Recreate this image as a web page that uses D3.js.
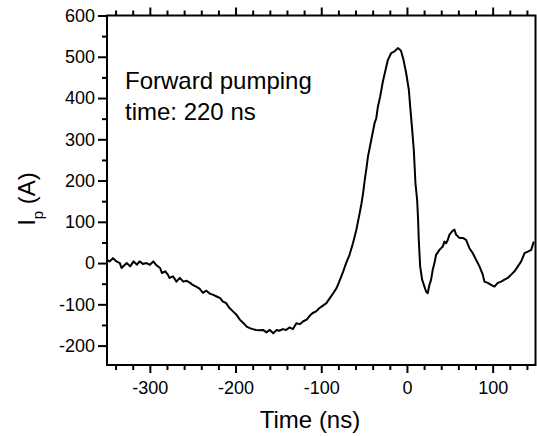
<!DOCTYPE html>
<html>
<head>
<meta charset="utf-8">
<script src="https://cdn.jsdelivr.net/npm/d3@7"></script>
<style>
  body { margin: 0; background: #fff; }
  text { font-family: "Liberation Sans", Arial, sans-serif; fill: #000; }
</style>
</head>
<body>
<div id="chart"></div>
<script>
// pulse current vs time
var time = [-350, -347, -343, -339, -335, -333, -327, -323, -319, -315, -312, -308, -304, -300, -296, -292, -288, -286, -282, -279,
  -277, -273, -269, -265, -261, -257, -253, -250, -246, -242, -238, -234, -230, -226, -222, -218, -215, -211, -207, -203,
  -199, -195, -191, -187, -184, -180, -176, -172, -168, -164, -160, -156, -152, -149, -145, -141, -137, -133, -129, -125,
  -121, -117, -114, -110, -106, -102, -98, -94, -90, -86, -82, -79, -75, -71, -67, -63, -59, -55, -53, -51,
  -49, -47, -45.5, -41.6, -37.8, -35.8, -33.9, -31.2, -28.1, -25, -22.3, -18.4, -14.5, -12, -10.6, -8, -6.7, -4, -0.9, 2.2,
  3.8, 6.1, 8, 9.9, 11.9, 13, 13.8, 15.4, 17.7, 20.4, 22.3, 24.2, 26.2, 28.2, 30.1, 32.1, 34, 37.9, 41.8, 43.7,
  45.7, 47.6, 49.6, 52.7, 55.4, 57.3, 61.2, 65.1, 69, 72.9, 76.8, 80.7, 84.6, 88.5, 90.4, 94.3, 98.2, 102.1, 106, 109.9,
  113.8, 117.7, 121.6, 125.5, 129.4, 133.3, 137.2, 141.1, 145, 148];
var current = [8, 4, 12, 4, 0, -12, 0, -8, 4, -4, 4, -2, 0, -4, 4, -6, -12, -24, -20, -28,
  -36, -32, -45, -36, -45, -43, -48, -53, -57, -62, -72, -67, -74, -77, -81, -85, -93, -97, -109, -117,
  -125, -137, -145, -154, -157, -160, -162, -163, -162, -168, -162, -170, -162, -164, -160, -162, -156, -160, -146, -148,
  -141, -137, -129, -121, -117, -109, -103, -97, -85, -73, -60, -45, -24, 0, 20, 48, 81, 123, 145, 172,
  205, 234, 258, 299, 339, 351, 379, 404, 440, 468, 492, 509, 513, 518, 521, 517, 513, 492, 460, 420,
  379, 323, 274, 194, 153, 105, 56, -8, -40, -57, -69, -73, -53, -40, -16, 0, 20, 32, 40, 52,
  48, 56, 69, 77, 81, 69, 61, 61, 56, 36, 24, 8, -8, -28, -45, -48, -53, -57, -48, -45,
  -40, -36, -28, -20, -8, 4, 24, 28, 32, 52];

var xTicks = [-300, -200, -100, 0, 100];
var yTicks = [-200, -100, 0, 100, 200, 300, 400, 500, 600];
var xMinor = d3.range(-340, 150, 20).filter(function(d){ return d % 100 != 0; });
var yMinor = [-150, -50, 50, 150, 250, 350, 450, 550];

var width = 537, height = 436;
var mLeft = 107, mRight = 535.5, mTop = 15.5, mBottom = 365;

var svg = d3.select("#chart").append("svg")
    .attr("width", width)
    .attr("height", height);

var x = d3.scaleLinear().domain([-350, 150]).range([mLeft, mRight]);
var y = d3.scaleLinear().domain([-247, 600]).range([mBottom, mTop]);

function styleAxis(g) {
    g.select(".domain").remove();
    g.selectAll("line").attr("stroke", "#000").attr("stroke-width", 2);
    g.selectAll("text").style("font-size", "18px").style("font-family", "Liberation Sans, Arial, sans-serif");
}

var fmt = function(d){ return String(d); };

// bottom axis
svg.append("g").attr("transform", "translate(0," + mBottom + ")")
    .call(d3.axisBottom(x).tickValues(xTicks).tickFormat(fmt).tickSize(8).tickPadding(8))
    .call(styleAxis);
svg.append("g").attr("transform", "translate(0," + mBottom + ")")
    .call(d3.axisBottom(x).tickValues(xMinor).tickFormat("").tickSize(5))
    .call(styleAxis);

// top axis, ticks only
svg.append("g").attr("transform", "translate(0," + mTop + ")")
    .call(d3.axisTop(x).tickValues(xTicks).tickFormat("").tickSize(8))
    .call(styleAxis);
svg.append("g").attr("transform", "translate(0," + mTop + ")")
    .call(d3.axisTop(x).tickValues(xMinor).tickFormat("").tickSize(5))
    .call(styleAxis);

// left axis
svg.append("g").attr("transform", "translate(" + mLeft + ",0)")
    .call(d3.axisLeft(y).tickValues(yTicks).tickFormat(fmt).tickSize(9).tickPadding(3))
    .call(styleAxis);
svg.append("g").attr("transform", "translate(" + mLeft + ",0)")
    .call(d3.axisLeft(y).tickValues(yMinor).tickFormat("").tickSize(5))
    .call(styleAxis);

// frame
svg.append("rect")
    .attr("x", mLeft).attr("y", mTop)
    .attr("width", mRight - mLeft).attr("height", mBottom - mTop)
    .attr("fill", "none").attr("stroke", "#000").attr("stroke-width", 2);

// the trace
var pts = time.map(function(t, i){ return [t, current[i]]; });
var line = d3.line()
    .x(function(d){ return x(d[0]); })
    .y(function(d){ return y(d[1]); });

svg.append("path")
    .datum(pts)
    .attr("d", line)
    .attr("fill", "none")
    .attr("stroke", "#000")
    .attr("stroke-width", 2)
    .attr("stroke-linejoin", "round");

// annotation
svg.append("text").attr("x", 125).attr("y", 89).style("font-size", "24px").text("Forward pumping");
svg.append("text").attr("x", 125).attr("y", 120).style("font-size", "24px").text("time: 220 ns");

// axis titles
svg.append("text")
    .attr("x", 310).attr("y", 428)
    .attr("text-anchor", "middle")
    .style("font-size", "24px")
    .text("Time (ns)");

var yl = svg.append("text")
    .attr("transform", "translate(35,199) rotate(-90)")
    .attr("text-anchor", "middle")
    .style("font-size", "24px");
yl.append("tspan").text("I");
yl.append("tspan").attr("dy", 8).style("font-size", "15px").text("p");
yl.append("tspan").attr("dy", -8).text(" (A)");
</script>
</body>
</html>
